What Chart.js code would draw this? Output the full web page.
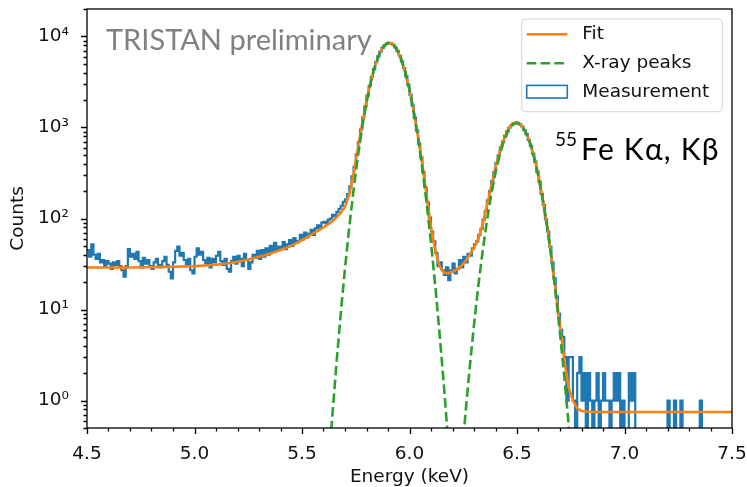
<!DOCTYPE html>
<html><head><meta charset="utf-8">
<script src="https://cdn.jsdelivr.net/npm/chart.js@4.4.1/dist/chart.umd.min.js"></script>
<style>html,body{margin:0;padding:0;background:#fff;}</style>
</head><body>
<canvas id="c" width="747" height="487"></canvas>
<script>
// ---- data ----
const binStart = 4.5;
const binWidth = 0.01;
const measCounts = [
  45,38,52,40,36,41,33,35,30,34,
  32,28,33,31,34,30,27,23,30,46,
  38,41,36,43,34,29,37,32,35,30,
  28,33,36,31,29,34,38,31,26,22,
  33,44,49,39,42,35,30,36,27,25,
  38,47,40,43,35,31,37,29,36,33,
  39,43,34,31,36,28,26,34,38,32,
  39,36,30,41,35,28,33,40,37,44,
  36,45,38,47,40,50,43,54,44,49,
  47,55,46,52,58,50,61,54,57,66,
  59,70,62,68,75,66,78,84,79,90,
  92,88,97,100,110,106,118,128,138,152,
  162,185,225,290,370,505,690,950,1280,1710,
  2240,2870,3590,4370,5200,6020,6800,7470,8000,8360,
  8470,8380,8060,7560,6900,6130,5300,4470,3670,2930,
  2280,1730,1280,930,665,470,325,220,150,102,
  72,56,42,30,33,27,24,29,21,27,
  32,25,28,35,29,38,33,41,39,47,
  52,56,66,77,97,120,158,200,258,323,
  405,495,600,700,810,905,995,1060,1115,1125,
  1125,1080,1025,935,845,730,628,515,422,325,
  255,186,141,98,72,49,33,22,14,9,
  6,5,3,1,3,3,1,0,2,3,
  1,2,0,2,1,0,1,2,0,1,
  2,1,1,0,1,2,1,2,0,1,
  0,0,2,1,2,0,0,0,0,0,
  0,0,0,0,0,0,0,0,0,0,
  1,0,0,1,0,0,1,0,0,0,
  0,0,0,0,0,1,0,0,0,0,
  0,0,0,0,0,0,0,0,0,0
];
const fitEnergy = [4.50,4.60,4.70,4.80,4.90,5.00,5.05,5.10,5.15,5.20,5.25,5.30,5.35,5.40,5.45,5.50,5.55,5.60,
  5.62,5.64,5.66,5.68,5.70,5.72,5.74,5.76,5.78,5.80,5.82,5.84,5.86,5.88,5.90,5.92,5.94,5.96,5.98,6.00,
  6.02,6.04,6.06,6.08,6.10,6.12,6.14,6.16,6.18,6.20,6.22,6.24,6.26,6.28,6.30,6.32,6.34,6.36,6.38,6.40,
  6.42,6.44,6.46,6.48,6.50,6.52,6.54,6.56,6.58,6.60,6.62,6.64,6.66,6.68,6.70,6.72,6.74,6.76,6.78,6.80,
  6.85,7.00,7.50];
const fitCounts = [29,29,29,29.2,29.5,30,30.5,31,32,33.5,35.5,38,41,45,50,58,68,80,
  86,93,103,115,135,185,310,585,1100,1970,3230,4810,6460,7820,8510,8320,7310,5770,4090,2610,
  1500,780,390,175,80,44,30,25.5,25,26,27.5,30,34,40,48,60,85,138,228,365,
  550,762,962,1100,1140,1065,900,686,472,292,163,83,38.5,16,6.5,2.8,1.4,1.0,0.82,0.77,
  0.75,0.75,0.75];
const kaEnergy = [5.60,5.62,5.64,5.66,5.68,5.70,5.72,5.74,5.76,5.78,5.80,5.82,5.84,5.86,5.88,5.90,
  5.92,5.94,5.96,5.98,6.00,6.02,6.04,6.06,6.08,6.10,6.12,6.14,6.16,6.18,6.20];
const kaCounts = [0.029,0.14,0.63,2.5,8.9,28.3,81,209,484,1005,1875,3140,4730,6390,7760,8460,
  8280,7280,5740,4070,2590,1480,760,351,145,54,18,5.4,1.46,0.35,0.077];
const kbEnergy = [6.22,6.24,6.26,6.28,6.30,6.32,6.34,6.36,6.38,6.40,6.42,6.44,6.46,6.48,6.50,
  6.52,6.54,6.56,6.58,6.60,6.62,6.64,6.66,6.68,6.70,6.72,6.74,6.76,6.78];
const kbCounts = [0.048,0.19,0.71,2.3,6.8,18.2,43.5,94,183,321,507,722,927,1074,1120,
  1051,890,679,467,289,161,81,36.9,15.1,5.5,1.84,0.55,0.15,0.036];
const xTickValues = [4.5,5.0,5.5,6.0,6.5,7.0,7.5];
const xTickLabels = ['4.5','5.0','5.5','6.0','6.5','7.0','7.5'];
const yTickValues = [1,10,100,1000,10000];
const yTickLabels = ['10\u2070','10\u00b9','10\u00b2','10\u00b3','10\u2074'];
const seriesLabels = ['Fit','X-ray peaks','Measurement'];

// ---- build library datasets ----
const BLUE = '#1f77b4', ORANGE = '#ff7f0e', GREEN = '#2ca02c';
const FLOOR = 0.01; // zero counts fall below the axis (clipped), as on a log plot
const measPoints = measCounts.map((c, i) => ({x: binStart + i * binWidth, y: c > 0 ? c : FLOOR}));
measPoints.push({x: binStart + measCounts.length * binWidth, y: measPoints[measPoints.length - 1].y});
const fitPoints = fitEnergy.map((e, i) => ({x: e, y: fitCounts[i]}));
const peakPoints = kaEnergy.map((e, i) => ({x: e, y: kaCounts[i]}))
  .concat([{x: 6.21, y: null}])
  .concat(kbEnergy.map((e, i) => ({x: e, y: kbCounts[i]})));

const FONT = 'DejaVu Sans';
const FS = 18.5;

const decor = {
  id: 'decor',
  afterDatasetsDraw(chart) {
    const ctx = chart.ctx, a = chart.chartArea;
    const xs = chart.scales.x, ys = chart.scales.y;
    ctx.save();
    ctx.strokeStyle = '#000';
    ctx.lineWidth = 1.3;
    ctx.beginPath();
    for (let k = 45; k <= 75; k++) {
      const px = Math.round(xs.getPixelForValue(k / 10)) + 0.5;
      const len = (k % 5 === 0) ? 6 : 3.5;
      ctx.moveTo(px, a.bottom); ctx.lineTo(px, a.bottom + len);
    }
    for (let e = -1; e <= 4; e++) {
      for (let m = 1; m <= 9; m++) {
        const v = m * Math.pow(10, e);
        if (v < ys.min * 0.999 || v > ys.max * 1.001) continue;
        const py = Math.round(ys.getPixelForValue(v)) + 0.5;
        const len = (m === 1) ? 6 : 3.5;
        ctx.moveTo(a.left, py); ctx.lineTo(a.left - len, py);
      }
    }
    ctx.stroke();
    ctx.strokeRect(a.left, a.top, a.right - a.left, a.bottom - a.top);
    ctx.restore();
  },
  afterDraw(chart) {
    const ctx = chart.ctx, a = chart.chartArea;
    ctx.save();
    ctx.fillStyle = '#808080';
    ctx.font = '29px Lato, "Noto Sans", sans-serif';
    ctx.textBaseline = 'alphabetic';
    ctx.fillText('TRISTAN preliminary', a.left + 19, a.top + 41);
    ctx.fillStyle = '#000';
    ctx.font = '19px Lato, "Noto Sans", sans-serif';
    const sx = a.right - 177;
    ctx.fillText('55', sx, a.top + 137);
    const w55 = ctx.measureText('55').width;
    ctx.font = '30px Lato, "Noto Sans", sans-serif';
    ctx.letterSpacing = '1.2px';
    ctx.fillText('Fe K\u03b1, K\u03b2', sx + w55 + 4, a.top + 150.5);
    ctx.letterSpacing = '0px';
    const bx = a.right - 210.3, by = a.top + 10, bw = 200.6, bh = 92.7, r = 4;
    ctx.beginPath();
    ctx.moveTo(bx + r, by); ctx.lineTo(bx + bw - r, by); ctx.arcTo(bx + bw, by, bx + bw, by + r, r);
    ctx.lineTo(bx + bw, by + bh - r); ctx.arcTo(bx + bw, by + bh, bx + bw - r, by + bh, r);
    ctx.lineTo(bx + r, by + bh); ctx.arcTo(bx, by + bh, bx, by + bh - r, r);
    ctx.lineTo(bx, by + r); ctx.arcTo(bx, by, bx + r, by, r); ctx.closePath();
    ctx.fillStyle = 'rgba(255,255,255,0.8)';
    ctx.fill();
    ctx.strokeStyle = '#d4d4d4'; ctx.lineWidth = 1; ctx.stroke();
    const ds = chart.data.datasets;
    const rowY = [by + 15.3, by + 44.3, by + 72.7];
    const hx0 = bx + 5, hx1 = bx + 45.6, tx = bx + 60.6;
    ds.forEach((d, i) => {
      const y = rowY[i];
      ctx.save();
      ctx.strokeStyle = d.borderColor;
      ctx.lineWidth = d.borderWidth;
      ctx.setLineDash(d.borderDash || []);
      if (d.legendBox) {
        ctx.lineWidth = 1.6;
        ctx.fillStyle = '#fff';
        ctx.fillRect(hx0, y - 6.3, hx1 - hx0, 12.6);
        ctx.strokeRect(hx0, y - 6.3, hx1 - hx0, 12.6);
      } else {
        ctx.beginPath(); ctx.moveTo(hx0, y); ctx.lineTo(hx1, y); ctx.stroke();
      }
      ctx.restore();
      ctx.fillStyle = '#111';
      ctx.font = FS + 'px "' + FONT + '"';
      ctx.textBaseline = 'middle';
      ctx.fillText(d.label, tx, y);
    });
    ctx.restore();
  }
};

new Chart(document.getElementById('c'), {
  type: 'line',
  data: {
    datasets: [
      {label: seriesLabels[0], data: fitPoints, borderColor: ORANGE, borderWidth: 2.6,
       pointRadius: 0, tension: 0, fill: false, order: 1},
      {label: seriesLabels[1], data: peakPoints, borderColor: GREEN, borderWidth: 2.6,
       borderDash: [9.6, 4.2], pointRadius: 0, tension: 0, fill: false, spanGaps: false, order: 0},
      {label: seriesLabels[2], data: measPoints, borderColor: BLUE, borderWidth: 2.2,
       stepped: 'before', pointRadius: 0, fill: false, order: 2, legendBox: true}
    ]
  },
  options: {
    responsive: false, animation: false, devicePixelRatio: 1,
    layout: {padding: {left: 0, top: 9, right: 15, bottom: 0}},
    plugins: {legend: {display: false}, tooltip: {enabled: false}},
    scales: {
      x: {
        type: 'linear', min: 4.5, max: 7.5,
        afterBuildTicks: s => { s.ticks = xTickValues.map(v => ({value: v})); },
        ticks: {callback: (v, i) => xTickLabels[i], font: {family: FONT, size: FS}, color: '#111',
                padding: 7, maxRotation: 0, autoSkip: false},
        grid: {display: false}, border: {display: false},
        title: {display: true, text: 'Energy (keV)', font: {family: FONT, size: FS, lineHeight: 1.1},
                color: '#111', padding: {top: 0, bottom: 0}},
        afterFit: s => { s.height = 59; s.paddingLeft = s.paddingRight = s.paddingTop = s.paddingBottom = 0; }
      },
      y: {
        type: 'logarithmic', min: 0.5, max: 20000,
        afterBuildTicks: s => { s.ticks = yTickValues.map(v => ({value: v})); },
        ticks: {callback: (v, i) => yTickLabels[i], font: {family: FONT, size: FS}, color: '#111',
                padding: 10, autoSkip: false},
        grid: {display: false}, border: {display: false},
        title: {display: true, text: 'Counts', font: {family: FONT, size: FS, lineHeight: 1.1},
                color: '#111', padding: {top: 8.4, bottom: 0}},
        afterFit: s => { s.width = 87; s.paddingLeft = s.paddingRight = s.paddingTop = s.paddingBottom = 0; }
      }
    }
  },
  plugins: [decor]
});
</script>
</body></html>
